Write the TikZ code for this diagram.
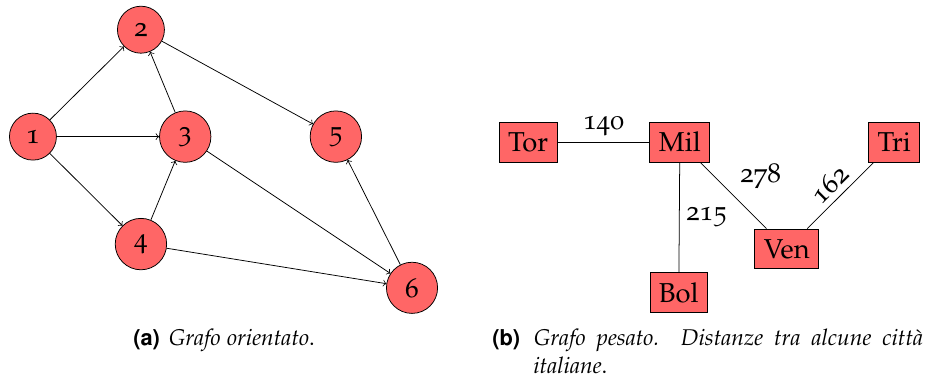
\documentclass[tikz,border=0pt]{standalone}
\usepackage[T1]{fontenc}
\usepackage[osf]{mathpazo}
\usepackage{tikz}

\tikzset{
	vertice/.style={circle, draw=black, fill=red!60, inner sep=5.2pt, font=\fontsize{14.4}{17}\selectfont},
	citta/.style={rectangle, draw=black, fill=red!60, minimum height=21pt, inner sep=4.8pt, font=\fontsize{14.4}{17}\selectfont},
	arco/.style={->, color=black},
	peso/.style={font=\fontsize{14.4}{17}\selectfont},
	didascalia/.style={font=\fontsize{12}{14.5}\selectfont}
}
\newcommand{\etich}[1]{{\fontfamily{phv}\fontseries{b}\fontsize{11.5}{14.5}\selectfont(#1)}\hspace{0.1em}}

\begin{document}
\begin{tikzpicture}
		\useasboundingbox (0,0) rectangle (17.13,7.09);
		
		% grafo orientato
		\node[vertice] (v1) at (0.61,4.56) {1};
		\node[vertice] (v2) at (2.61,6.54) {2};
		\node[vertice] (v3) at (3.43,4.56) {3};
		\node[vertice] (v4) at (2.61,2.57) {4};
		\node[vertice] (v5) at (6.22,4.56) {5};
		\node[vertice] (v6) at (7.63,1.76) {6};
		
		\draw[arco] (v1) -- (v2);
		\draw[arco] (v1) -- (v3);
		\draw[arco] (v1) -- (v4);
		\draw[arco] (v3) -- (v2);
		\draw[arco] (v4) -- (v3);
		\draw[arco] (v2) -- (v5);
		\draw[arco] (v3) -- (v6);
		\draw[arco] (v4) -- (v6);
		\draw[arco] (v6) -- (v5);
		
		% grafo pesato
		\node[citta] (tor) at (9.78,4.46) {Tor};
		\node[citta] (mil) at (12.59,4.46) {Mil};
		\node[citta] (tri) at (16.56,4.46) {Tri};
		\node[citta] (ven) at (14.57,2.48) {Ven};
		\node[citta] (bol) at (12.57,1.67) {Bol};
		
		\draw (tor) -- node[peso, above] {140} (mil);
		\draw (mil) -- node[peso, right] {215} (bol);
		\draw (mil) -- node[peso, above right] {278} (ven);
		\draw (ven) -- node[peso, sloped, above] {162} (tri);
		
		% didascalie
		\node[didascalia, anchor=base] (capa) at (4.15,0.685) {\etich{a} \textit{Grafo orientato}.};
		\node[didascalia, anchor=base west, text width=7.98cm, align=justify, inner sep=0pt] (capb) at (9.11,0.685)
		{\hyphenpenalty=10000\hangindent=0.76cm\hangafter=1 \etich{b} \textit{Grafo pesato. Distanze tra alcune citt\`a italiane}.\par};
		
\end{tikzpicture}
\end{document}
